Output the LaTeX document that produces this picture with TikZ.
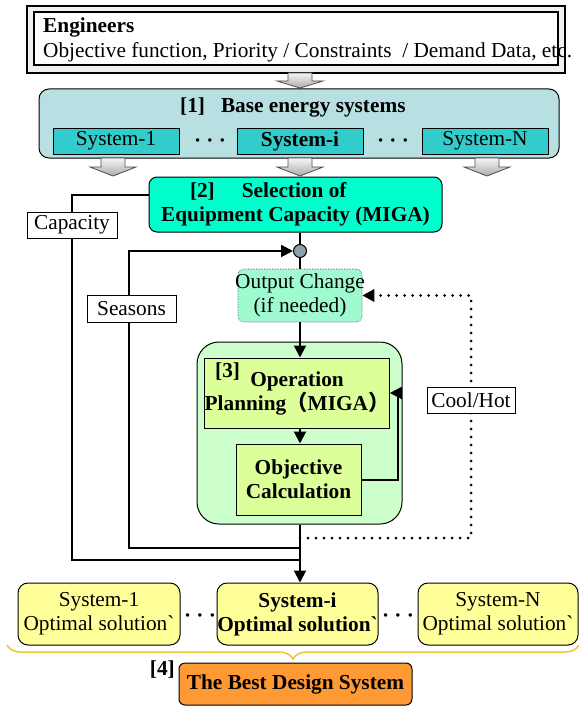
\documentclass[tikz,border=0pt]{standalone}
\usepackage{fontspec}
\setmainfont{Liberation Serif}
\newfontfamily\cjk{Noto Sans CJK JP}
\usetikzlibrary{arrows.meta,decorations.pathreplacing}

\definecolor{baseblue}{RGB}{184,224,226}
\definecolor{syscyan}{RGB}{51,204,204}
\definecolor{selaqua}{RGB}{0,255,204}
\definecolor{outmint}{RGB}{160,250,208}
\definecolor{grpgreen}{RGB}{204,255,204}
\definecolor{oplime}{RGB}{221,255,153}
\definecolor{solyellow}{RGB}{255,255,153}
\definecolor{bestorange}{RGB}{255,153,51}
\definecolor{bracegold}{RGB}{240,196,50}
\definecolor{juncgray}{RGB}{140,160,170}

\tikzset{
  txt/.style={font=\fontsize{21.3}{24}\selectfont},
  bfont/.style={font=\fontsize{21.3}{24}\selectfont\bfseries},
  box/.style={draw, line width=1pt, inner sep=0pt, align=center, txt},
  tag/.style={box, fill=white, minimum height=26pt},
  flow/.style={line width=2pt},
  tip/.style={-{Triangle[length=12pt,width=12pt]}},
  dotline/.style={line width=3pt, dash pattern=on 0pt off 8pt, line cap=round},
}

% gray block arrow: x, top, end of shaft, tip
\newcommand{\blockarr}[4]{%
  \draw[gray!60!black, line width=0.8pt, top color=gray!8, bottom color=gray!65]
    (#1-12,#2) -- (#1+12,#2) -- (#1+12,#3) -- (#1+23,#3) -- (#1,#4)
    -- (#1-23,#3) -- (#1-12,#3) -- cycle;}

\begin{document}
\begin{tikzpicture}[x=1pt,y=-1pt]
\useasboundingbox (0,0) rectangle (580,706);
% engineers
\node[draw, line width=1.5pt, fill=gray!12, minimum width=538pt, minimum height=67pt] (engout) at (296,39.5) {};
\node[draw, line width=1.5pt, fill=white, minimum width=524pt, minimum height=53pt] (eng) at (296,38.5) {};
\node[txt, anchor=base west, inner sep=0pt] (engname) at (43,33) {\textbf{Engineers}};
\node[txt, anchor=base west, inner sep=0pt] (engdata) at (43,58) {Objective function, Priority / Constraints~~/ Demand Data, etc.};
\blockarr{300}{73}{81}{88}
% [1] base energy systems
\node[box, fill=baseblue, rounded corners=10pt, minimum width=520pt, minimum height=69pt] (base) at (299,123.5) {};
\node[bfont, anchor=base west, inner sep=0pt] (basettl) at (180,113) {[1]~~~Base energy systems};
\node[box, fill=syscyan, minimum width=126pt, minimum height=26pt] (bsys1) at (116,141) {System-1};
\node[box, fill=syscyan, minimum width=126pt, minimum height=26pt] (bsysi) at (300,141) {\textbf{System-i}};
\node[box, fill=syscyan, minimum width=126pt, minimum height=26pt] (bsysn) at (485,141) {System-N};
\node[bfont, anchor=base, inner sep=0pt] (bdots1) at (210,147) {· · ·};
\node[bfont, anchor=base, inner sep=0pt] (bdots2) at (393,147) {· · ·};
\blockarr{113}{158}{167}{176}
\blockarr{300}{158}{167}{176}
\blockarr{487}{158}{167}{176}
% [2] capacity selection
\node[box, fill=selaqua, rounded corners=8pt, minimum width=293pt, minimum height=55pt, bfont] (sel) at (295.5,204.5)
  {\makebox[261pt][l]{\hspace{25pt}[2]\hspace{27pt}Selection of}\\Equipment Capacity (MIGA)};
\node[circle, draw, line width=1pt, fill=juncgray, minimum size=13pt, inner sep=0pt] (junc) at (300,251) {};
\node[box, draw=black!70, line width=0.6pt, densely dotted, fill=outmint, rounded corners=6pt, minimum width=124pt, minimum height=53pt] (outchg) at (300,295.5)
  {\makebox[118pt]{Output Change}\\(if needed)};
% [3] operation planning
\node[box, fill=grpgreen, rounded corners=22pt, minimum width=205pt, minimum height=182pt] (grp) at (299.5,433) {};
\node[box, fill=oplime, minimum width=174pt, minimum height=70pt, bfont] (op) at (297,393)
  {Operation\\Planning{\cjk （}MIGA{\cjk ）}};
\node[bfont, anchor=base west, inner sep=0pt] (optag) at (215,377) {[3]};
\node[box, fill=oplime, minimum width=125pt, minimum height=71pt, bfont] (obj) at (298.5,479.5)
  {Objective\\Calculation};
% [4] solutions
\node[box, fill=solyellow, rounded corners=10pt, minimum width=162pt, minimum height=62pt] (sol1) at (99,614)
  {System-1\\Optimal solution\textasciigrave};
\node[box, fill=solyellow, rounded corners=10pt, minimum width=161pt, minimum height=62pt, bfont] (soli) at (297.5,614)
  {System-i\\Optimal solution\textasciigrave};
\node[box, fill=solyellow, rounded corners=10pt, minimum width=160pt, minimum height=62pt] (soln) at (498,614)
  {System-N\\Optimal solution\textasciigrave};
\node[bfont, anchor=base, inner sep=0pt] (sdots1) at (200,622) {· · ·};
\node[bfont, anchor=base, inner sep=0pt] (sdots2) at (398,622) {· · ·};
\node[box, fill=bestorange, rounded corners=6pt, minimum width=233pt, minimum height=42pt, bfont] (best) at (295.5,684) {The Best Design System};
\node[bfont, anchor=base east, inner sep=0pt] (besttag) at (175,675) {[4]};
\draw[bracegold, line width=1.5pt, decorate, decoration={brace, amplitude=14pt}] (579,645) -- (7,645);
% connectors
\coordinate (capjoin) at (300,560);
\coordinate (seajoin) at (300,548);
\coordinate (hotjoin) at (300,538);
\draw[flow] (junc |- sel.south) -- (junc);
\draw[flow] (junc) -- (junc |- outchg.north);
\draw[flow, tip] (junc |- outchg.south) -- (junc |- op.north);
\draw[flow, tip] (junc |- op.south) -- (junc |- obj.north);
\draw[flow, tip] (obj.east) -- ++(36,0) |- (op.east);
\draw[flow, tip] (junc |- grp.south) -- (junc |- soli.north);
\draw[flow] ([yshift=9.5pt]sel.west) -| (72,560) -- (capjoin);
\draw[flow, tip] (seajoin) -- (129,548) |- (junc.west);
\draw[dotline, tip] (hotjoin) -- (471,538) |- (outchg.east);
\node[tag, minimum width=90pt] (captag) at (72,225) {Capacity};
\node[tag, minimum width=89pt, minimum height=27pt] (seatag) at (131.5,308.5) {Seasons};
\node[tag, minimum width=88pt] (hottag) at (471,400) {Cool/Hot};
\end{tikzpicture}
\end{document}
